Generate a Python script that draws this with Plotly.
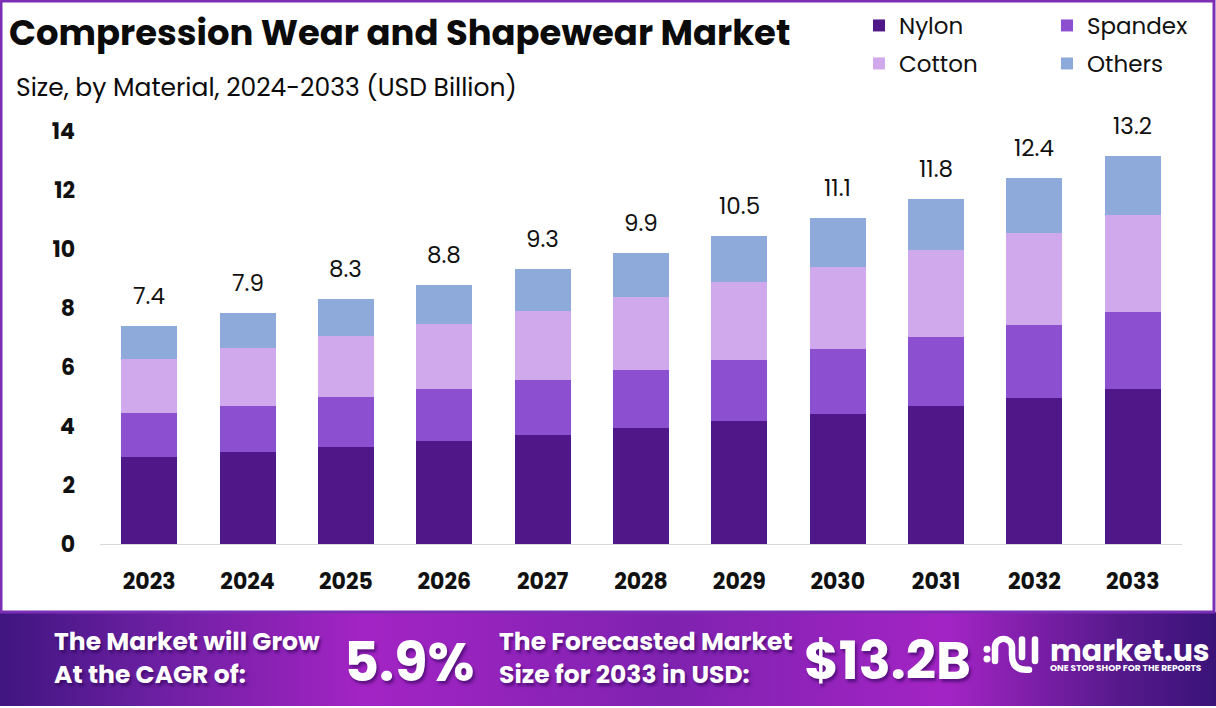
import base64

import plotly.graph_objects as go

# valores
anos = ["2023", "2024", "2025", "2026", "2027", "2028", "2029", "2030", "2031", "2032", "2033"]
nylon = [2.95, 3.12, 3.29, 3.49, 3.69, 3.93, 4.17, 4.41, 4.68, 4.95, 5.25]
spandex = [1.49, 1.56, 1.69, 1.76, 1.87, 1.97, 2.07, 2.20, 2.34, 2.47, 2.61]
cotton = [1.83, 1.96, 2.07, 2.21, 2.34, 2.47, 2.64, 2.78, 2.95, 3.12, 3.29]
others = [1.12, 1.19, 1.25, 1.32, 1.42, 1.49, 1.56, 1.66, 1.72, 1.87, 2.00]
rotulos = ["7.4", "7.9", "8.3", "8.8", "9.3", "9.9", "10.5", "11.1", "11.8", "12.4", "13.2"]
ticks_y = [0, 2, 4, 6, 8, 10, 12, 14]

series = [("Nylon", nylon, "#4f1787", "legend"), ("Spandex", spandex, "#8c4fd0", "legend"),
          ("Cotton", cotton, "#d0a8ec", "legend2"), ("Others", others, "#8eaadb", "legend2")]

FONTE = "Poppins, Inter, sans-serif"
L, T, W, H = 100, 131, 1082, 413


def px(x):
    return (x - L) / W


def py(y):
    return 1 - (y - T) / H


def texto(x, y, txt, size, cor="#0b0b0b", weight=400, anchor="left", shadow=None):
    return dict(x=px(x), y=py(y), xref="paper", yref="paper", text=txt, showarrow=False,
                xanchor=anchor, yanchor="middle", align="left",
                font=dict(family=FONTE, size=size, color=cor, weight=weight, shadow=shadow))


def legenda(y):
    # uma legenda por linha, para controlar o espaco entre as linhas
    return dict(orientation="h", x=px(859), y=py(y), xanchor="left", yanchor="top",
                entrywidth=143, entrywidthmode="pixels", traceorder="normal",
                font=dict(family=FONTE, size=23, color="#111111"), bgcolor="rgba(0,0,0,0)")


banner_svg = """<svg xmlns="http://www.w3.org/2000/svg" width="1216" height="96" viewBox="0 0 1216 96">
<defs><linearGradient id="g" x1="0" x2="1" y1="0" y2="0">
<stop offset="0" stop-color="#3f1580"/><stop offset="0.12" stop-color="#6a1fa0"/>
<stop offset="0.3" stop-color="#a324c4"/><stop offset="0.55" stop-color="#7f22b0"/>
<stop offset="0.78" stop-color="#a324c4"/><stop offset="0.92" stop-color="#56198c"/>
<stop offset="1" stop-color="#3a1378"/></linearGradient></defs>
<rect width="1216" height="96" fill="url(#g)"/>
<g fill="none" stroke="#fff" stroke-width="6.500" stroke-linecap="round">
<path d="M995 50V36a8.500 8.500 0 0 1 17 0V44q0 15 14 15h3"/>
<path d="M1022 28V46"/><path d="M1035 28V50"/></g>
<circle cx="987" cy="38" r="3.500" fill="#fff"/><circle cx="987" cy="48" r="3.500" fill="#fff"/>
</svg>"""
banner_src = "data:image/svg+xml;base64," + base64.b64encode(banner_svg.encode()).decode()

fig = go.Figure()
for nome, valores, cor, leg in series:
    fig.add_trace(go.Bar(x=anos, y=valores, name=nome, legend=leg,
                         marker=dict(color=cor, line_width=0)))

totais = [sum(v) for v in zip(nylon, spandex, cotton, others)]
# no eixo categorico "2023" seria lido como posicao, entao uso o indice
anotacoes = [dict(x=i, y=t, xref="x", yref="y", text=r, yshift=30, showarrow=False,
                  yanchor="middle", font=dict(family=FONTE, size=23, color="#111111"))
             for i, (t, r) in enumerate(zip(totais, rotulos))]

sombra = "2px 3px 3px rgba(40,0,80,0.55)"
anotacoes += [
    texto(7, 33, "Compression Wear and Shapewear Market", 35.4, weight=700),
    texto(14, 87, "Size, by Material, 2024-2033 (USD Billion)", 25),
    texto(52, 658, "The Market will Grow<br>At the CAGR of:", 25, "#ffffff", 700, shadow=sombra),
    texto(342, 662, "5.9%", 54, "#ffffff", 700, shadow=sombra),
    texto(497, 658, "The Forecasted Market<br>Size for 2033 in USD:", 25, "#ffffff", 700, shadow=sombra),
    texto(802, 660, "$13.2B", 53, "#ffffff", 700, shadow=sombra),
    texto(1048, 650, "market.us", 30, "#ffffff", 700),
    texto(1048, 668, "ONE STOP SHOP FOR THE REPORTS", 9, "#ffffff", 700),
]

fig.update_layout(
    width=1216, height=708,
    margin=dict(l=L, r=1216 - L - W, t=T, b=708 - T - H, autoexpand=False),
    barmode="stack", bargap=0.43,
    paper_bgcolor="white", plot_bgcolor="white",
    font=dict(family=FONTE),
    annotations=anotacoes,
    legend=legenda(4), legend2=legenda(42),
    images=[dict(source=banner_src, xref="paper", yref="paper", x=px(0), y=py(612),
                 sizex=1216 / W, sizey=94 / H, sizing="stretch", xanchor="left",
                 yanchor="top", layer="below")],
    shapes=[dict(type="rect", xref="paper", yref="paper", x0=px(1), x1=px(1214),
                 y0=py(1), y1=py(612), line=dict(color="#7b2fb5", width=3), layer="below")],
    xaxis=dict(type="category", showline=True, linecolor="#d9d9d9", linewidth=1, ticks="",
               showgrid=False, ticklabelstandoff=18, range=[-0.5, 10.5],
               tickfont=dict(family=FONTE, size=22, color="#111111", weight=700)),
    yaxis=dict(range=[0, 14], tickvals=ticks_y, showline=False, showgrid=False, zeroline=False,
               ticks="", ticklabelstandoff=24,
               tickfont=dict(family=FONTE, size=22, color="#111111", weight=700)),
)

fig.write_html("out.html", config={"displayModeBar": False},
               post_script="document.body.style.margin='0';document.body.style.overflow='hidden';")
